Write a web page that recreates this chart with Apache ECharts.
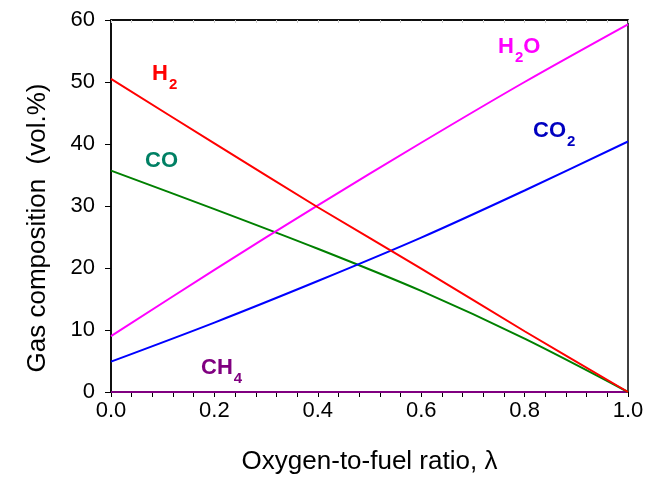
<!DOCTYPE html>
<html><head><meta charset="utf-8">
<script src="https://cdn.jsdelivr.net/npm/echarts@6/dist/echarts.min.js"></script>
<style>html,body{margin:0;padding:0;background:#fff}#c{width:665px;height:480px}</style>
</head><body><div id="c"></div>
<script>
var lambda = [0, 0.2, 0.4, 0.6, 0.8, 1.0];
var h2  = [50.5, 40.1, 29.8, 19.9, 9.8, 0];
var co  = [35.7, 29.5, 23.1, 16.3, 8.6, 0];
var h2o = [9.0, 19.7, 30.1, 40.2, 50.0, 59.3];
var co2 = [4.9, 11.2, 17.9, 24.9, 32.5, 40.4];
var ch4 = [0, 0, 0, 0, 0, 0];
var xTicks = ['0.0','0.2','0.4','0.6','0.8','1.0'];
var yTicks = [0,10,20,30,40,50,60];
var xTitle = 'Oxygen-to-fuel ratio, \u03bb';
var yTitle = 'Gas composition  (vol.%)';

function pairs(ys){ return lambda.map(function(x,i){ return [x, ys[i]]; }); }
var F = 'Liberation Sans, Arial, sans-serif';
var chart = echarts.init(document.getElementById('c'), null, {renderer:'canvas'});
function lineS(name, ys, color){
  return {name:name, type:'line', data:pairs(ys), showSymbol:false, symbol:'none', smooth:0.3,
    lineStyle:{color:color, width:2}, itemStyle:{color:color}, animation:false, z: 3};
}
function lbl(x, y, main, sub, color, subAfter){
  return {type:'text', left:x, top:y, z:10,
    style:{text:'{m|'+main+'}'+(sub?'{s|'+sub+'}':'')+(subAfter?'{m|'+subAfter+'}':''),
      rich:{m:{fontFamily:F, fontWeight:'bold', fontSize:22, fill:color, verticalAlign:'top', lineHeight:25},
            s:{fontFamily:F, fontWeight:'bold', fontSize:15, fill:color, verticalAlign:'top', lineHeight:15, padding:[14,0,0,1]}}}};
}
chart.setOption({
  animation:false,
  grid:{left:111, top:20, right:37, bottom:88, show:true, borderColor:'#000', borderWidth:1.5},
  xAxis:[{type:'value', min:0, max:1, interval:0.2, position:'bottom',
    axisLine:{show:true, lineStyle:{color:'#000', width:1.5}},
    axisTick:{show:true, inside:false, length:5, lineStyle:{color:'#000'}},
    minorTick:{show:true, splitNumber:5, length:5, lineStyle:{color:'#000'}},
    splitLine:{show:false},
    axisLabel:{fontFamily:F, fontSize:22, color:'#000', margin:8,
      formatter:function(v){ var i = Math.round(v/0.2); return xTicks[i]; }},
    name:xTitle, nameLocation:'middle', nameGap:57,
    nameTextStyle:{fontFamily:F, fontSize:26, color:'#000'}},
   {type:'value', min:0, max:1, interval:0.2, position:'top',
    axisLine:{show:true, lineStyle:{color:'#000', width:1.5}},
    axisTick:{show:true, inside:true, length:3, lineStyle:{color:'#ccc'}},
    minorTick:{show:true, splitNumber:5, length:3, lineStyle:{color:'#ccc'}},
    splitLine:{show:false}, axisLabel:{show:false}}],
  yAxis:{type:'value', min:0, max:60, interval:10,
    axisLine:{show:true, lineStyle:{color:'#000', width:1.5}},
    axisTick:{show:true, inside:false, length:6, lineStyle:{color:'#000'}},
    splitLine:{show:false},
    axisLabel:{fontFamily:F, fontSize:22, color:'#000', margin:16,
      formatter:function(v){ return String(yTicks[Math.round(v/10)]); }}},
  series:[
    lineS('CH4', ch4, '#800080'),
    lineS('CO', co, '#008000'),
    lineS('CO2', co2, '#0000ff'),
    lineS('H2O', h2o, '#ff00ff'),
    lineS('H2', h2, '#ff0000')
  ],
  graphic:[
    {type:'text', x:38, y:228, rotation:Math.PI/2, z:10,
      style:{text:yTitle, x:0, y:0, align:'center', verticalAlign:'middle',
        fontFamily:F, fontSize:26, fill:'#000'}},
    lbl(152, 63, 'H', '2', '#ff0000'),
    lbl(498, 36, 'H', '2', '#ff00ff', 'O'),
    lbl(533, 120, 'CO', '2', '#0000c0'),
    lbl(145, 150, 'CO', '', '#008064'),
    lbl(201, 357, 'CH', '4', '#800080')
  ]
});
</script></body></html>
